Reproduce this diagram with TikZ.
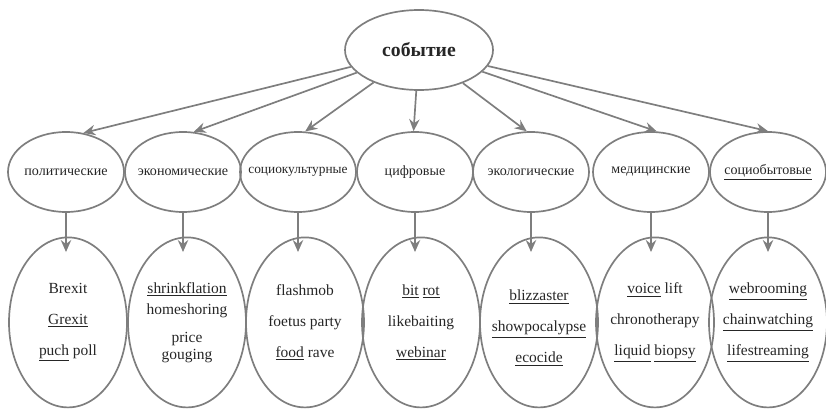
\documentclass[tikz,border=0pt]{standalone}
\usepackage{fontspec}
\setmainfont{Liberation Serif}
\usepackage{tikz}
\usetikzlibrary{arrows.meta,shapes.geometric}
\definecolor{edgegray}{HTML}{7E7E7E}
\definecolor{inkgray}{HTML}{262626}

\begin{document}
\begin{tikzpicture}[
  event/.style={
    ellipse,
    draw=edgegray,
    line width=1.2pt,
    minimum width=3.7cm,
    minimum height=2.0cm,
    inner sep=0pt,
    text=inkgray,
    font=\fontsize{14}{16}\selectfont\bfseries
  },
  kind/.style={
    ellipse,
    draw=edgegray,
    line width=1.2pt,
    minimum width=2.9cm,
    minimum height=2.0cm,
    inner sep=0pt
  },
  kindtext/.style={font=\fontsize{10}{12}\selectfont, text=inkgray, inner sep=0pt},
  words/.style={
    ellipse,
    draw=edgegray,
    line width=1.2pt,
    minimum width=2.95cm,
    minimum height=4.25cm,
    inner sep=0pt
  },
  wordtext/.style={
    font=\fontsize{11}{13}\selectfont,
    text=inkgray,
    align=center,
    inner sep=0pt
  },
  link/.style={-{Stealth[length=3mm, width=2.6mm, inset=1mm]}, draw=edgegray, line width=1.2pt},
  drop/.style={link, shorten >=-11pt}
]

\useasboundingbox (0,0) rectangle (20.65,-10.25);

\node[event] (event) at (10.475,-1.25) {событие};

% types of events
\foreach \i/\x/\txt in {1/1.65/политические, 2/4.575/экономические,
    3/7.45/{\fontsize{9.5}{11}\selectfont социокультурные}, 4/10.375/цифровые,
    5/13.275/экологические, 6/16.275/медицинские, 7/19.2/{\underline{социобытовые}}} {
  \node[kind, label={[kindtext]center:\txt}] (kind\i) at (\x,-4.3) {};
}

% neologisms
\node[words, label={[wordtext]center:{Brexit\\[9pt]\underline{Grexit}\\[9pt]\underline{puch} poll}}]
  (words1) at (1.7,-8.06) {};
\node[words, label={[wordtext]center:{\underline{shrinkflation}\\[2pt]homeshoring\\[7pt]price\\[-1pt]gouging}}]
  (words2) at (4.675,-8.06) {};
\node[words, label={[wordtext]center:{flashmob\\[9pt]foetus party\\[9pt]\underline{food} rave}}]
  (words3) at (7.625,-8.06) {};
\node[words, label={[wordtext]center:{\underline{bit} \underline{rot}\\[9pt]likebaiting\\[9pt]\underline{webinar}}}]
  (words4) at (10.525,-8.06) {};
\node[words, label={[wordtext, yshift=-4pt]center:{\underline{blizzaster}\\[9pt]\underline{showpocalypse}\\[9pt]\underline{ecocide}}}]
  (words5) at (13.475,-8.06) {};
\node[words, label={[wordtext]center:{\underline{voice} lift\\[9pt]chronotherapy\\[9pt]\underline{liquid} \underline{biopsy}}}]
  (words6) at (16.375,-8.06) {};
\node[words, label={[wordtext]center:{\underline{webrooming}\\[9pt]\underline{chainwatching}\\[9pt]\underline{lifestreaming}}}]
  (words7) at (19.2,-8.06) {};

\foreach \i/\a in {1/66,2/75,3/80,4/92,5/96,6/82,7/90} {
  \draw[link] (event) -- (kind\i.\a);
}

\foreach \i in {1,...,7} {
  \draw[drop] (kind\i) -- (kind\i |- words\i.north);
}

\end{tikzpicture}
\end{document}
